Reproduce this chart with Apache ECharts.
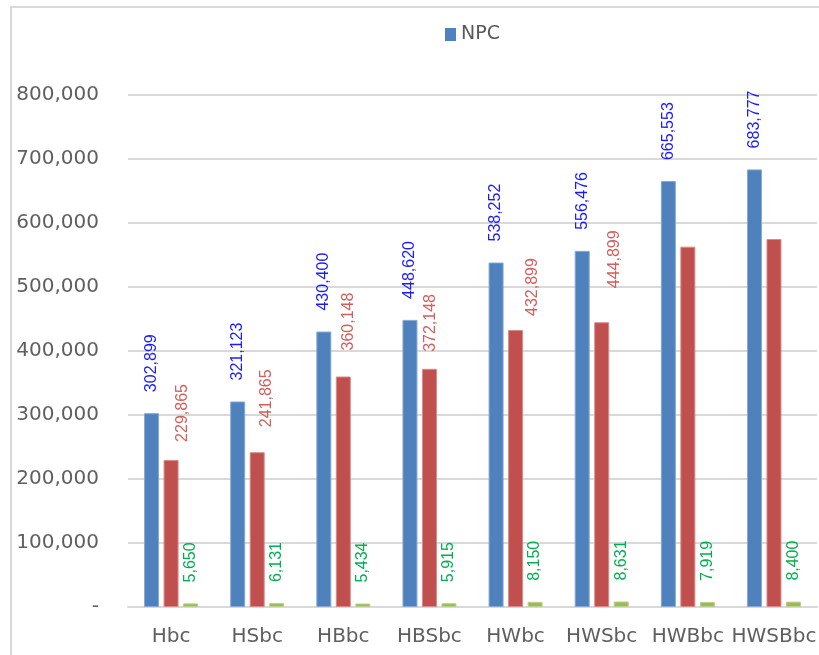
<!DOCTYPE html>
<html>
<head>
<meta charset="utf-8">
<script src="https://cdn.jsdelivr.net/npm/echarts@6/dist/echarts.min.js"></script>
<style>
html,body{margin:0;padding:0;background:#fff;}
#chart{width:819px;height:655px;}
</style>
</head>
<body>
<div id="chart"></div>
<script>
const categories = ['Hbc', 'HSbc', 'HBbc', 'HBSbc', 'HWbc', 'HWSbc', 'HWBbc', 'HWSBbc'];
const npcValues = [302899, 321123, 430400, 448620, 538252, 556476, 665553, 683777];
const redValues = [229865, 241865, 360148, 372148, 432899, 444899, 563000, 575000];
const greenValues = [5650, 6131, 5434, 5915, 8150, 8631, 7919, 8400];
const yTickValues = [0, 100000, 200000, 300000, 400000, 500000, 600000, 700000, 800000];
const yTickLabels = ['-', '100,000', '200,000', '300,000', '400,000', '500,000', '600,000', '700,000', '800,000'];

// label styling: red labels were hand-placed (shift [up, right] in px); null = no label
const redLabelShift = [[-3, 12], [4, 9], [5, 5], [-4, 1], [-7, 17], [13, 13], null, null];

const fmt = v => v.toLocaleString('en-US');

const baseLabel = {
  show: true,
  position: 'top',
  rotate: 90,
  align: 'left',
  verticalAlign: 'middle',
  distance: 21,
  fontFamily: '"Liberation Sans", Arial, sans-serif',
  fontSize: 16,
  formatter: p => fmt(p.value)
};

const redData = redValues.map((v, i) => {
  const s = redLabelShift[i];
  if (!s) return { value: v, label: { show: false } };
  return { value: v, label: { offset: [s[0], s[1]] } };
});

const chart = echarts.init(document.getElementById('chart'), null, { renderer: 'canvas' });
chart.setOption({
  animation: false,
  backgroundColor: '#ffffff',
  graphic: [{
    type: 'rect',
    silent: true,
    z: -10,
    shape: { x: 11, y: 7, width: 900, height: 700 },
    style: { fill: 'none', stroke: '#d9d9d9', lineWidth: 2 }
  }],
  legend: {
    data: ['NPC'],
    left: 440,
    top: 20,
    icon: 'rect',
    itemWidth: 11,
    itemHeight: 13,
    itemGap: 6,
    itemStyle: { borderWidth: 0 },
    textStyle: { fontFamily: '"DejaVu Sans", sans-serif', fontSize: 19, color: '#595959' }
  },
  grid: { left: 128, top: 95, width: 696, height: 512, containLabel: false },
  xAxis: {
    type: 'category',
    data: categories,
    axisTick: { show: false },
    axisLine: { show: true, lineStyle: { color: '#d9d9d9', width: 2 } },
    axisLabel: {
      margin: 20,
      fontFamily: '"DejaVu Sans", sans-serif',
      fontSize: 20,
      color: '#5f5f5f',
      interval: 0
    }
  },
  yAxis: {
    type: 'value',
    min: 0,
    max: 800000,
    interval: 100000,
    axisLine: { show: false },
    axisTick: { show: false },
    splitLine: { lineStyle: { color: '#d9d9d9', width: 2 } },
    axisLabel: {
      margin: 29,
      fontFamily: '"DejaVu Sans", sans-serif',
      fontSize: 20,
      color: '#5f5f5f',
      formatter: v => {
        const i = yTickValues.indexOf(v);
        return i >= 0 ? yTickLabels[i] : fmt(v);
      }
    }
  },
  series: [
    {
      name: 'NPC',
      type: 'bar',
      data: npcValues,
      barWidth: 15,
      barGap: '30%',
      itemStyle: { color: '#4F81BD', borderColor: '#86a8d4', borderWidth: 1 },
      label: Object.assign({}, baseLabel, { color: '#1a1aff' })
    },
    {
      name: 'Series 2',
      type: 'bar',
      data: redData,
      barWidth: 15,
      barGap: '30%',
      itemStyle: { color: '#C0504D', borderColor: '#d88a88', borderWidth: 1 },
      label: Object.assign({}, baseLabel, { color: '#d0605c' })
    },
    {
      name: 'Series 3',
      type: 'bar',
      data: greenValues,
      barWidth: 15,
      barGap: '30%',
      itemStyle: { color: '#9BBB59', borderColor: '#b9d08a', borderWidth: 1 },
      label: Object.assign({}, baseLabel, { color: '#00B050' })
    }
  ]
});
</script>
</body>
</html>
